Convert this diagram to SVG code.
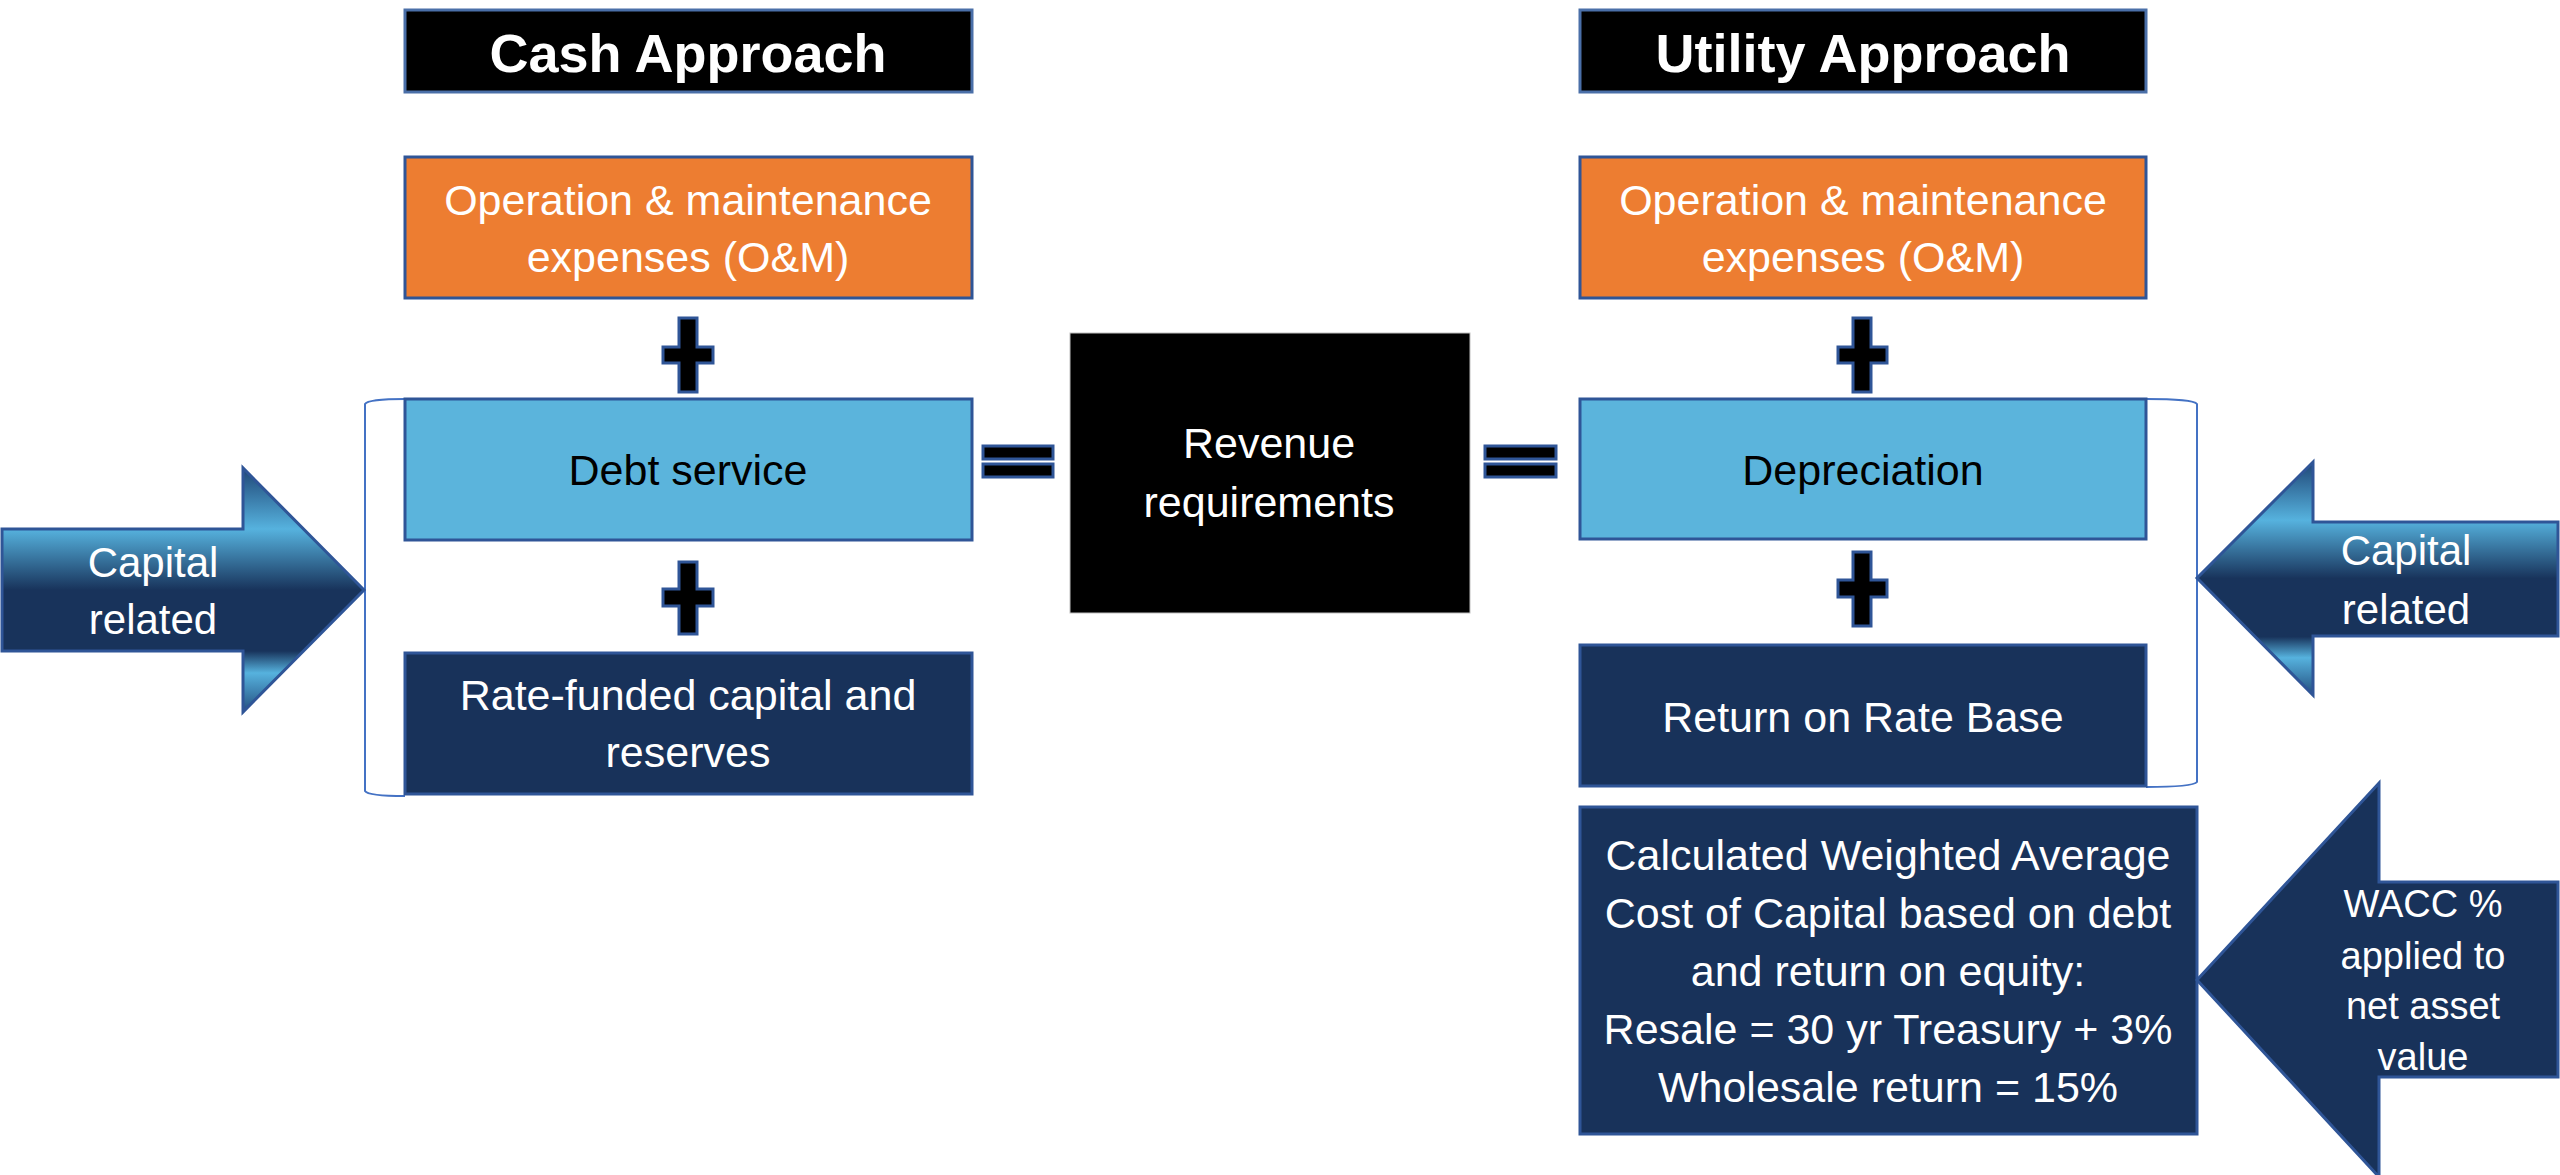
<svg xmlns="http://www.w3.org/2000/svg" width="2560" height="1175" viewBox="0 0 2560 1175">
  <defs>
    <linearGradient id="capGrad" x1="0" y1="0" x2="0" y2="1">
      <stop offset="0" stop-color="#1F4676"/>
      <stop offset="0.25" stop-color="#56B2DE"/>
      <stop offset="0.5" stop-color="#18335B"/>
      <stop offset="0.75" stop-color="#18335B"/>
      <stop offset="0.84" stop-color="#56B2DE"/>
      <stop offset="1" stop-color="#244F7F"/>
    </linearGradient>
  </defs>
  <style>
    text { font-family: "Liberation Sans", Arial, sans-serif; text-anchor: middle; }
    .title { fill: #000000; stroke: #4A6FA8; stroke-width: 3; }
    .titletxt { font-size: 54px; font-weight: bold; fill: #FFFFFF; }
    .orange { fill: #ED7D31; stroke: #2F5597; stroke-width: 3; }
    .light { fill: #5BB4DC; stroke: #2F5597; stroke-width: 3; }
    .navy { fill: #18325A; stroke: #2F5597; stroke-width: 3; }
    .rev { fill: #000000; stroke: #BFBFBF; stroke-width: 1; }
    .w { fill: #FFFFFF; font-size: 43px; }
    .k { fill: #000000; font-size: 43px; }
    .op { fill: #000000; stroke: #2F5597; stroke-width: 3; }
    .arrow { fill: url(#capGrad); stroke: #2F5597; stroke-width: 3; }
    .arrowsolid { fill: #18325A; stroke: #2F5597; stroke-width: 3; }
    .arrtxt { fill: #FFFFFF; font-size: 42px; }
    .wacctxt { fill: #FFFFFF; font-size: 38px; }
    .bracket { fill: none; stroke: #4472C4; stroke-width: 2; }
  </style>

  <g id="connectors">
    <path class="bracket" d="M405,399 Q368,399 365,404 L365,791 Q368,796 405,796"/>
    <path class="bracket" d="M2146,399 Q2193,399 2197,404 L2197,782 Q2193,787 2146,787"/>
  </g>

  <!-- Left column: Cash Approach -->
  <g id="cash-approach">
    <rect class="title" x="405" y="10" width="567" height="82"/>
    <text class="titletxt" x="688" y="72">Cash Approach</text>
  </g>
  <g id="cash-om">
    <rect class="orange" x="405" y="157" width="567" height="141"/>
    <text class="w" x="688" y="215">Operation &amp; maintenance</text>
    <text class="w" x="688" y="272">expenses (O&amp;M)</text>
  </g>
  <g id="plus-cash-1">
    <path class="op" d="M679,318 H697 V347 H713 V363 H697 V392 H679 V363 H663 V347 H679 Z"/>
  </g>
  <g id="debt-service">
    <rect class="light" x="405" y="399" width="567" height="141"/>
    <text class="k" x="688" y="485">Debt service</text>
  </g>
  <g id="plus-cash-2">
    <path class="op" d="M679,562 H697 V589 H713 V606 H697 V634 H679 V606 H663 V589 H679 Z"/>
  </g>
  <g id="rate-funded">
    <rect class="navy" x="405" y="653" width="567" height="141"/>
    <text class="w" x="688" y="710">Rate-funded capital and</text>
    <text class="w" x="688" y="767">reserves</text>
  </g>
  <g id="capital-related-left">
    <path class="arrow" d="M2,529 H243 V468 L364,590 L243,712 V651 H2 Z"/>
    <text class="arrtxt" x="153" y="577">Capital</text>
    <text class="arrtxt" x="153" y="634">related</text>
  </g>

  <!-- Equals signs -->
  <g id="equals-left">
    <rect class="op" x="983" y="446" width="70" height="13"/>
    <rect class="op" x="983" y="464" width="70" height="13"/>
  </g>
  <g id="equals-right">
    <rect class="op" x="1485" y="446" width="71" height="13"/>
    <rect class="op" x="1485" y="464" width="71" height="13"/>
  </g>

  <!-- Center -->
  <g id="revenue-requirements">
    <rect class="rev" x="1070" y="333" width="400" height="280"/>
    <text class="w" x="1269" y="458">Revenue</text>
    <text class="w" x="1269" y="517">requirements</text>
  </g>

  <!-- Right column: Utility Approach -->
  <g id="utility-approach">
    <rect class="title" x="1580" y="10" width="566" height="82"/>
    <text class="titletxt" x="1863" y="72">Utility Approach</text>
  </g>
  <g id="utility-om">
    <rect class="orange" x="1580" y="157" width="566" height="141"/>
    <text class="w" x="1863" y="215">Operation &amp; maintenance</text>
    <text class="w" x="1863" y="272">expenses (O&amp;M)</text>
  </g>
  <g id="plus-utility-1">
    <path class="op" d="M1853,318 H1871 V347 H1887 V363 H1871 V392 H1853 V363 H1838 V347 H1853 Z"/>
  </g>
  <g id="depreciation">
    <rect class="light" x="1580" y="399" width="566" height="140"/>
    <text class="k" x="1863" y="485">Depreciation</text>
  </g>
  <g id="plus-utility-2">
    <path class="op" d="M1853,552 H1871 V580 H1887 V597 H1871 V626 H1853 V597 H1838 V580 H1853 Z"/>
  </g>
  <g id="return-on-rate-base">
    <rect class="navy" x="1580" y="645" width="566" height="141"/>
    <text class="w" x="1863" y="732">Return on Rate Base</text>
  </g>
  <g id="wacc-box">
    <rect class="navy" x="1580" y="807" width="617" height="327"/>
    <text class="w" x="1888" y="870">Calculated Weighted Average</text>
    <text class="w" x="1888" y="928">Cost of Capital based on debt</text>
    <text class="w" x="1888" y="986">and return on equity:</text>
    <text class="w" x="1888" y="1044">Resale = 30 yr Treasury + 3%</text>
    <text class="w" x="1888" y="1102">Wholesale return = 15%</text>
  </g>
  <g id="capital-related-right">
    <path class="arrow" d="M2558,522 H2313 V462 L2197,578 L2313,695 V636 H2558 Z"/>
    <text class="arrtxt" x="2406" y="565">Capital</text>
    <text class="arrtxt" x="2406" y="624">related</text>
  </g>
  <g id="wacc-arrow">
    <path class="arrowsolid" d="M2558,882 H2379 V783 L2197,980 L2379,1177 V1077 H2558 Z"/>
    <text class="wacctxt" x="2423" y="917">WACC %</text>
    <text class="wacctxt" x="2423" y="969">applied to</text>
    <text class="wacctxt" x="2423" y="1019">net asset</text>
    <text class="wacctxt" x="2423" y="1070">value</text>
  </g>
</svg>
